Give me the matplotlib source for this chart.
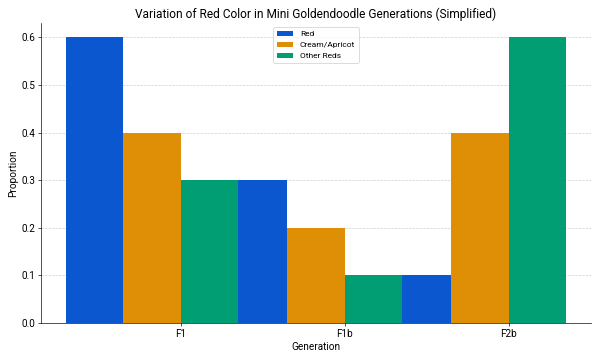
import numpy as np
import matplotlib
matplotlib.use("Agg")
import matplotlib.pyplot as plt

plt.rcParams['font.family'] = ['Roboto', 'DejaVu Sans']

generations = ["F1", "F1b", "F2b"]
red = [0.6, 0.3, 0.1]
cream_apricot = [0.4, 0.2, 0.4]
other_reds = [0.3, 0.1, 0.6]

colors = ["#0B57D0", "#DE8F05", "#029E73"]

fig, ax = plt.subplots(figsize=(10, 6), dpi=60)
x = np.arange(len(generations))
w = 0.35
ax.bar(x - 2 * w, red, w, align='edge', color=colors[0], label="Red", zorder=2)
ax.bar(x - w, cream_apricot, w, align='edge', color=colors[1], label="Cream/Apricot", zorder=2)
ax.bar(x, other_reds, w, align='edge', color=colors[2], label="Other Reds", zorder=2)

ax.set_xticks(x)
ax.set_xticklabels(generations, fontsize=12)
ax.tick_params(axis='y', labelsize=12)
ax.set_xlabel("Generation", fontsize=12)
ax.set_ylabel("Proportion", fontsize=12)
ax.set_title("Variation of Red Color in Mini Goldendoodle Generations (Simplified)", fontsize=14.3)
ax.yaxis.grid(True, linestyle='--', color='#cccccc', linewidth=0.8, zorder=0)
ax.set_axisbelow(True)
for s in ["top", "right"]:
    ax.spines[s].set_visible(False)
ax.legend(loc="upper center", fontsize=10)

fig.subplots_adjust(left=0.068, right=0.985, bottom=0.103, top=0.936)
fig.savefig("out.png", dpi=60)
